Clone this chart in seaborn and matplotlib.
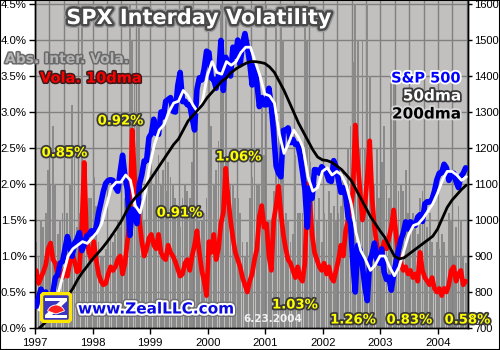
import numpy as np
import pandas as pd
import matplotlib
matplotlib.use("Agg")
import matplotlib.pyplot as plt
import matplotlib.patheffects as pe
from matplotlib.patches import Rectangle, FancyBboxPatch, Wedge, Polygon
import seaborn as sns

# ------------------------------------------------------------------ data
years = [1997, 1998, 1999, 2000, 2001, 2002, 2003, 2004]
year_avg_vola = [0.85, 0.92, 0.91, 1.06, 1.03, 1.26, 0.83, 0.58]

# absolute interday volatility (%), half-month peaks
abs_vola_1997 = [1.2, 1.0, 1.5, 1.4, 1.6, 2.2, 2.0, 2.8, 2.0, 1.3, 1.5, 1.6,
                 1.3, 1.6, 2.0, 3.1, 2.4, 1.4, 1.6, 4.5, 2.2, 2.0, 1.8, 1.8]
abs_vola_1998 = [2.1, 1.7, 1.2, 1.0, 1.0, 1.1, 1.2, 1.3, 1.2, 1.3, 1.5, 1.4,
                 1.0, 1.8, 2.0, 4.5, 4.0, 3.5, 3.0, 4.2, 1.8, 1.5, 2.0, 2.1]
abs_vola_1999 = [2.5, 2.0, 2.2, 2.4, 2.0, 2.2, 1.9, 2.3, 2.1, 2.0, 1.8, 1.6,
                 1.4, 1.8, 2.0, 1.9, 1.8, 2.3, 2.9, 3.2, 1.5, 1.5, 1.6, 1.8]
abs_vola_2000 = [3.8, 2.8, 2.0, 2.2, 2.6, 4.5, 3.5, 4.5, 2.3, 2.0, 2.0, 1.8,
                 1.8, 1.6, 1.2, 1.0, 1.2, 1.8, 2.1, 3.5, 2.0, 2.0, 3.1, 2.4]
abs_vola_2001 = [4.5, 1.5, 1.5, 1.9, 4.3, 2.9, 4.5, 4.0, 1.6, 1.5, 1.2, 1.3,
                 2.4, 1.6, 1.6, 1.6, 4.5, 4.0, 2.3, 2.0, 1.8, 1.5, 1.8, 1.2]
abs_vola_2002 = [1.6, 1.5, 1.9, 1.6, 1.7, 1.5, 1.6, 1.7, 2.2, 1.9, 2.5, 2.8,
                 3.7, 4.5, 4.0, 2.5, 4.0, 2.5, 4.5, 3.5, 2.2, 2.0, 2.5, 1.8]
abs_vola_2003 = [2.3, 2.8, 2.0, 1.8, 3.5, 3.5, 2.5, 1.9, 2.0, 1.9, 2.2, 1.6,
                 1.4, 1.6, 1.4, 1.3, 1.8, 1.9, 1.2, 1.4, 1.6, 1.2, 1.0, 1.2]
abs_vola_2004 = [1.1, 1.3, 1.2, 1.0, 1.6, 1.5, 1.0, 1.4, 1.7, 1.5, 1.0, 0.9]

# 10-day moving average of volatility (%), half-month readings
vola10_1997 = [0.80, 0.62, 0.70, 0.78, 0.88, 1.10, 1.18, 0.95, 0.90, 0.72, 0.78, 0.70,
               0.82, 0.72, 0.90, 1.05, 0.92, 0.78, 0.80, 1.40, 2.30, 1.25, 1.05, 0.95]
vola10_1998 = [1.20, 0.95, 0.75, 0.65, 0.60, 0.62, 0.75, 0.85, 0.80, 0.85, 0.95, 1.00,
               0.75, 0.90, 1.20, 1.50, 2.75, 2.10, 1.80, 1.50, 1.20, 1.00, 1.10, 1.25]
vola10_1999 = [1.30, 1.15, 1.10, 1.30, 1.05, 0.98, 0.95, 1.15, 1.05, 1.00, 0.92, 0.82,
               0.72, 0.75, 0.90, 0.95, 0.80, 1.00, 1.15, 1.35, 1.05, 0.80, 0.65, 0.45]
vola10_2000 = [1.20, 1.05, 1.30, 0.95, 1.10, 1.45, 1.60, 2.22, 1.80, 1.50, 1.25, 1.05,
               0.95, 0.85, 0.70, 0.60, 0.50, 0.65, 0.75, 0.95, 1.10, 1.55, 1.70, 1.40]
vola10_2001 = [1.45, 1.00, 0.80, 1.50, 1.70, 1.97, 1.60, 1.30, 1.10, 0.95, 0.90, 0.80,
               0.70, 0.85, 0.70, 0.65, 0.90, 2.00, 1.80, 1.30, 1.05, 0.95, 0.85, 0.80]
vola10_2002 = [0.90, 0.75, 0.85, 0.70, 0.65, 0.80, 0.95, 1.15, 1.00, 1.35, 1.50, 1.60,
               1.90, 2.82, 2.30, 1.90, 1.50, 1.70, 2.10, 2.60, 1.80, 1.40, 1.15, 1.00]
vola10_2003 = [1.05, 1.20, 1.10, 1.25, 1.40, 1.64, 1.30, 1.00, 0.90, 0.80, 0.85, 0.75,
               0.80, 0.70, 0.75, 0.65, 1.05, 0.80, 0.70, 0.65, 0.60, 0.70, 0.55, 0.50]
vola10_2004 = [0.55, 0.45, 0.55, 0.50, 0.60, 0.80, 0.85, 0.65, 0.75, 0.80, 0.60, 0.65]

# S&P 500 index, half-month readings
spx_1997 = [760, 786, 808, 791, 800, 757, 750, 801, 840, 848, 880, 885,
            920, 954, 925, 899, 935, 947, 965, 915, 930, 955, 960, 970]
spx_1998 = [960, 980, 1020, 1049, 1080, 1102, 1110, 1112, 1110, 1091, 1080, 1134,
            1180, 1121, 1085, 957, 1030, 1017, 990, 1099, 1125, 1164, 1165, 1229]
spx_1999 = [1240, 1280, 1240, 1238, 1300, 1286, 1330, 1335, 1340, 1302, 1300, 1373,
            1410, 1329, 1330, 1320, 1320, 1283, 1250, 1363, 1395, 1389, 1420, 1469]
spx_2000 = [1465, 1394, 1390, 1366, 1400, 1499, 1360, 1452, 1420, 1400, 1480, 1455,
            1500, 1431, 1490, 1518, 1480, 1437, 1375, 1429, 1380, 1315, 1340, 1320]
spx_2001 = [1320, 1366, 1315, 1240, 1150, 1130, 1120, 1249, 1250, 1256, 1215, 1224,
            1210, 1211, 1180, 1134, 1085, 980, 1090, 1060, 1140, 1139, 1130, 1148]
spx_2002 = [1140, 1130, 1110, 1107, 1165, 1147, 1110, 1077, 1090, 1067, 1010, 990,
            880, 800, 930, 916, 870, 815, 776, 886, 905, 936, 890, 880]
spx_2003 = [920, 856, 835, 841, 805, 848, 885, 917, 945, 964, 995, 975,
            995, 990, 985, 1008, 1015, 996, 1045, 1051, 1050, 1058, 1080, 1112]
spx_2004 = [1130, 1131, 1155, 1145, 1110, 1126, 1130, 1107, 1090, 1121, 1130, 1145]

# 50-day moving average of the S&P 500, month-end readings
ma50_1997 = [750, 780, 795, 780, 800, 850, 900, 920, 930, 940, 935, 950]
ma50_1998 = [965, 990, 1040, 1090, 1105, 1105, 1125, 1110, 1040, 1020, 1070, 1150]
ma50_1999 = [1210, 1250, 1265, 1300, 1325, 1330, 1360, 1345, 1320, 1300, 1330, 1400]
ma50_2000 = [1440, 1410, 1405, 1440, 1430, 1440, 1465, 1480, 1480, 1440, 1400, 1350]
ma50_2001 = [1345, 1325, 1240, 1185, 1215, 1250, 1230, 1200, 1120, 1080, 1090, 1135]
ma50_2002 = [1145, 1125, 1135, 1125, 1095, 1045, 965, 915, 890, 860, 875, 900]
ma50_2003 = [900, 870, 845, 870, 915, 960, 985, 990, 1005, 1025, 1045, 1075]
ma50_2004 = [1110, 1135, 1135, 1125, 1110, 1120]

# 200-day moving average of the S&P 500, month-end readings
ma200_1997 = [700, 712, 725, 738, 752, 770, 790, 810, 835, 855, 872, 890]
ma200_1998 = [905, 920, 937, 955, 975, 995, 1020, 1045, 1062, 1075, 1090, 1110]
ma200_1999 = [1130, 1150, 1170, 1190, 1210, 1225, 1250, 1275, 1290, 1305, 1320, 1340]
ma200_2000 = [1355, 1370, 1385, 1395, 1410, 1420, 1428, 1435, 1440, 1440, 1438, 1435]
ma200_2001 = [1425, 1410, 1385, 1360, 1330, 1300, 1270, 1245, 1220, 1195, 1175, 1167]
ma200_2002 = [1165, 1160, 1150, 1140, 1125, 1110, 1085, 1060, 1035, 1010, 990, 970]
ma200_2003 = [952, 925, 900, 892, 895, 905, 915, 925, 935, 945, 955, 975]
ma200_2004 = [1005, 1035, 1055, 1070, 1085, 1097]

abs_vola = sum([abs_vola_1997, abs_vola_1998, abs_vola_1999, abs_vola_2000,
                abs_vola_2001, abs_vola_2002, abs_vola_2003, abs_vola_2004], [])
vola10 = sum([vola10_1997, vola10_1998, vola10_1999, vola10_2000,
              vola10_2001, vola10_2002, vola10_2003, vola10_2004], [])
spx = sum([spx_1997, spx_1998, spx_1999, spx_2000,
           spx_2001, spx_2002, spx_2003, spx_2004], [])
ma50 = sum([ma50_1997, ma50_1998, ma50_1999, ma50_2000,
            ma50_2001, ma50_2002, ma50_2003, ma50_2004], [])
ma200 = sum([ma200_1997, ma200_1998, ma200_1999, ma200_2000,
             ma200_2001, ma200_2002, ma200_2003, ma200_2004], [])

t_half = 1997 + (np.arange(len(spx)) + 0.5) / 24.0
t_month = 1997 + (np.arange(len(ma50)) + 0.9) / 12.0

df_half = pd.DataFrame({"t": t_half, "abs_vola": abs_vola, "vola10": vola10, "spx": spx})
df_month = pd.DataFrame({"t": t_month, "ma50": ma50, "ma200": ma200})

# ------------------------------------------------------------------ figure
sns.set_style("white")
plt.rcParams["font.family"] = ["Liberation Sans", "DejaVu Sans"]

W, H = 500, 350
fig = plt.figure(figsize=(W / 100, H / 100), dpi=100, facecolor="white")
ax = fig.add_axes([35 / W, 1 - 328 / H, 433 / W, 327 / H])
ax.set_facecolor("#C2BFBF")

ymax = 4.542
ax.set_xlim(1997, 2004.52)
ax.set_ylim(0, ymax)

# grid
for q in np.arange(1997, 2004.6, 0.25):
    ax.axvline(q, color="#808080", lw=1, zorder=0.5)
for v in np.arange(0.5, 4.6, 0.5):
    ax.axhline(v, color="#808080", lw=1, zorder=0.5)

ax.bar(df_half["t"], df_half["abs_vola"], width=0.75 / 24, color="#8A8A8A",
       linewidth=0, zorder=1)
sns.lineplot(data=df_half, x="t", y="vola10", ax=ax, color="#FF0000", lw=3.4,
             zorder=3, legend=False)

ax2 = ax.twinx()
ax2.set_ylim(700, 700 + ymax * 200)
sns.lineplot(data=df_half, x="t", y="spx", ax=ax2, color="#0000FF", lw=4.0,
             zorder=3, legend=False)
sns.lineplot(data=df_month, x="t", y="ma50", ax=ax2, color="white", lw=2.0,
             zorder=4, legend=False)
sns.lineplot(data=df_month, x="t", y="ma200", ax=ax2, color="black", lw=2.0,
             zorder=5, legend=False)
ax2.set_xlim(1997, 2004.52)

for a in (ax, ax2):
    a.set_xlabel("")
    a.set_ylabel("")
    a.grid(False)
    for s in a.spines.values():
        s.set_color("black")
        s.set_linewidth(1)
    a.spines["top"].set_visible(False)

ax.set_xticks(years)
ax.set_xticklabels([str(y) for y in years])
ax.set_yticks(np.arange(0, 4.51, 0.5))
ax.set_yticklabels([f"{v:.1f}%" for v in np.arange(0, 4.51, 0.5)])
ax2.set_yticks(np.arange(700, 1601, 100))
ax2.set_yticklabels([str(v) for v in range(700, 1601, 100)])
ax.tick_params(axis="both", direction="out", length=4, width=1, colors="black",
               labelsize=8.2, pad=2, left=True, bottom=True)
ax.tick_params(axis="x", pad=3)
ax2.tick_params(axis="y", direction="out", length=3, width=1, colors="black",
                labelsize=8.0, pad=1.5, right=True)


def fx(px):
    return px / W


def fy(py):
    return 1 - py / H


def outlined(x, y, s, size, fc, ec, lw, ha="center", extra=None):
    effects = []
    if extra is not None:
        effects.append(pe.Stroke(linewidth=extra[0], foreground=extra[1]))
    effects += [pe.Stroke(linewidth=lw, foreground=ec), pe.Normal()]
    fig.text(fx(x), fy(y), s, fontsize=size, fontweight="bold", color=fc,
             ha=ha, va="center", family="DejaVu Sans", path_effects=effects,
             zorder=20)


# title and legend texts
outlined(199, 18, "SPX Interday Volatility", 15, "white", "#4A4A4A", 3.5,
         extra=(5.5, "#9A9A9A"))
outlined(5, 59, "Abs. Inter. Vola.", 10, "#B4B4B4", "#6A6A6A", 2.2, ha="left")
outlined(40, 78, "Vola. 10dma", 10.5, "#FF0000", "#3A1A1A", 2.2, ha="left")
outlined(461, 78, "S&P 500", 10.5, "#0000FF", "white", 2.6, ha="right")
outlined(461, 96, "50dma", 11, "white", "#3A3A3A", 2.6, ha="right")
outlined(461, 114, "200dma", 11, "black", "#D8D8D8", 2.6, ha="right")

# yearly average volatility labels
label_px = [(64.5, 153), (120.5, 121), (179.5, 213), (238.5, 157),
            (295, 305), (353, 320), (409.5, 320), (467.5, 320)]
for (px, py), v in zip(label_px, year_avg_vola):
    outlined(px, py, f"{v:.2f}%", 9.5, "#FFFF00", "#3A3A3A", 2.6)

# date stamp
fig.text(fx(243), fy(319), "6.23.2004", fontsize=7.5, fontweight="bold",
         color="#F2F2F2", ha="left", va="center", family="DejaVu Sans", zorder=20)

# logo
lax = fig.add_axes([fx(40), fy(323), 32 / W, 31 / H], zorder=25)
lax.set_xlim(0, 32)
lax.set_ylim(0, 31)
lax.axis("off")
lax.add_patch(FancyBboxPatch((1.5, 1.5), 29, 28,
                             boxstyle="round,pad=0,rounding_size=3",
                             facecolor="#3A36C0", edgecolor="#FFE600",
                             linewidth=2.5))
lax.add_patch(Polygon([[5, 25], [27, 25], [27, 22], [12, 8], [27, 8], [27, 5],
                       [5, 5], [5, 8], [20, 22], [5, 22]],
                      closed=True, facecolor="white", edgecolor="none"))
lax.add_patch(Wedge((16, 9), 9, 20, 160, facecolor="#FF2020", edgecolor="white",
                    linewidth=0.6))

# url
outlined(78, 309, "www.ZealLLC.com", 11, "#0A0AE0", "white", 3.0, ha="left",
         extra=(5, "#707070"))

# outer border
fig.add_artist(Rectangle((0, 0), 1, 1, transform=fig.transFigure, fill=False,
                         edgecolor="black", linewidth=1.5, zorder=30))

fig.savefig("out.png", dpi=100, facecolor="white")
